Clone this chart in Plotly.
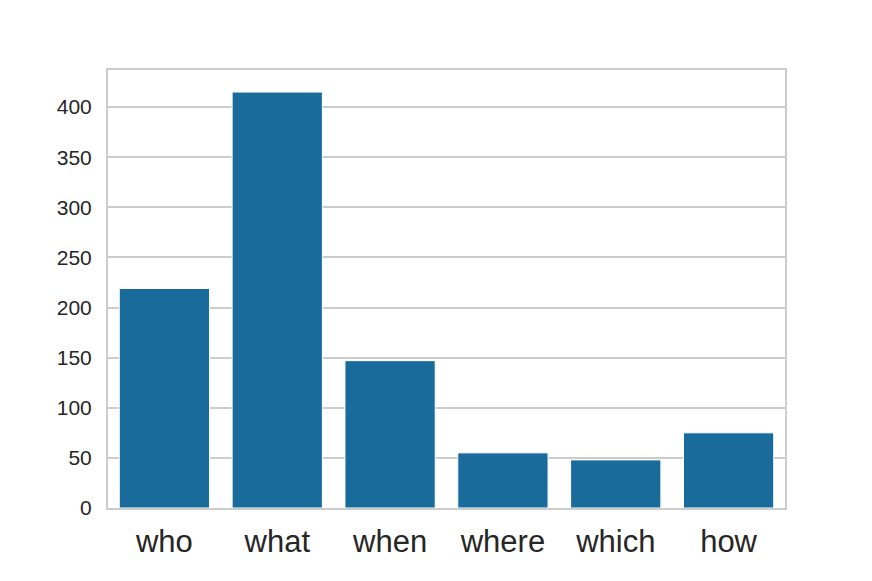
import plotly.graph_objects as go

# Question-word counts
CATEGORIES = ['who', 'what', 'when', 'where', 'which', 'how']
COUNTS = [219, 415, 147, 55, 48, 75]
Y_TICKS = [0, 50, 100, 150, 200, 250, 300, 350, 400]

BAR_COLOR = '#196b9c'
GRID_COLOR = '#cccccc'
TEXT_COLOR = '#262626'

fig = go.Figure()
fig.add_trace(go.Bar(x=CATEGORIES, y=COUNTS, width=0.8,
                     marker=dict(color=BAR_COLOR, line=dict(color='white', width=1))))

fig.update_layout(width=872, height=581, plot_bgcolor='white', paper_bgcolor='white',
                  margin=dict(l=100, r=95, t=62, b=81), showlegend=False,
                  font=dict(family='Liberation Sans, Arial, sans-serif', color=TEXT_COLOR))
fig.update_xaxes(range=[-0.5, 5.5], showgrid=False, showline=True, mirror=True,
                 linecolor=GRID_COLOR, linewidth=2, tickfont=dict(size=31),
                 ticks='outside', ticklen=5, tickcolor='rgba(0,0,0,0)')
fig.update_yaxes(range=[0, 437], tickvals=Y_TICKS, showgrid=True, gridcolor=GRID_COLOR,
                 gridwidth=1.5, showline=True, mirror=True, linecolor=GRID_COLOR, linewidth=2,
                 zeroline=False, tickfont=dict(size=21),
                 ticks='outside', ticklen=10, tickcolor='rgba(0,0,0,0)')

fig.write_html("out.html")
